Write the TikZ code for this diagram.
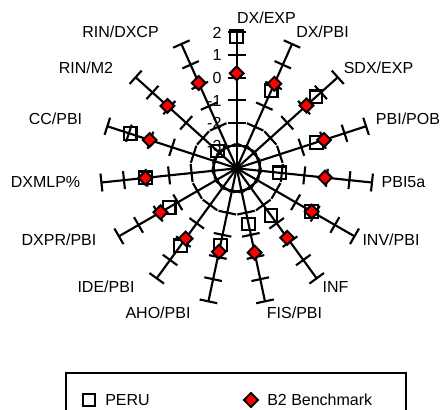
\documentclass[tikz,border=0pt]{standalone}
\usepackage{fontspec}
\setmainfont{Liberation Sans}
\usetikzlibrary{shapes.geometric}
\tikzset{
  spoke/.style   = {line width=1.6pt},
  peru/.style    = {draw, rectangle, line width=1.6pt, minimum size=9.5pt, inner sep=0pt},
  bench/.style   = {draw, diamond, fill=red, line width=1.5pt, minimum size=11pt, inner sep=0pt},
  axlabel/.style = {font=\fontsize{12}{14}\selectfont, inner sep=0pt, anchor=base, yshift=-4.3pt}
}
\begin{document}
\begin{tikzpicture}[x=0.75pt,y=0.75pt]
  \useasboundingbox (-236.7,-241.7) rectangle (203.3,168.3);
  \clip (-236.7,-241.7) rectangle (203.3,168.3);
  \coordinate (o) at (0,0);
  % spokes with ticks from -3 to 2 (centre is -4)
  \foreach \k in {0,...,14}{
    \pgfmathsetmacro\a{90-24*\k}
    \coordinate (end\k) at (\a:136);
    \draw[spoke] (o) -- (end\k);
    \foreach \t in {-3,...,2}
      \draw[spoke,rotate=\a] ({(\t+4)*22.67},-9) -- ({(\t+4)*22.67},9);
  }
  % scale on the vertical spoke
  \foreach \t in {-3,...,2}
    \node[axlabel,anchor=base east] (v\t) at (-15,{(\t+4)*22.67}) {\t};
  % PERU (no value on RIN/DXCP)
  \foreach \k/\v in {0/1.81,1/-0.26,2/0.71,3/-0.3,4/-2.1,5/-0.18,6/-1.43,7/-1.49,
                     8/-0.54,9/0.23,10/-0.56,11/0.05,12/0.94,13/-2.86}
    \node[peru] (p\k) at ({90-24*\k}:{(\v+4)*22.67}) {};
  % B2 Benchmark
  \foreach \k/\v in {0/0.19,1/0.08,2/0.14,3/0.05,4/-0.08,5/-0.18,6/-0.21,7/-0.2,
                     8/-0.24,9/-0.17,10/-0.12,11/0.05,12/0.04,13/0.11,14/0.12}
    \node[bench] (b\k) at ({90-24*\k}:{(\v+4)*22.67}) {};
  % spoke names
  \node[axlabel] (dxexp)   at (29.8,150.3)   {DX/EXP};
  \node[axlabel] (dxpbi)   at (85.8,136.3)   {DX/PBI};
  \node[axlabel] (sdxexp)  at (141.8,100.3)  {SDX/EXP};
  \node[axlabel] (pbipob)  at (171.3,49.3)   {PBI/POB};
  \node[axlabel] (pbifive) at (166.8,-13.7)  {PBI5a};
  \node[axlabel] (invpbi)  at (154.3,-71.7)  {INV/PBI};
  \node[axlabel] (inf)     at (98.8,-118.7)  {INF};
  \node[axlabel] (fispbi)  at (57.8,-144.7)  {FIS/PBI};
  \node[axlabel] (ahopbi)  at (-78.7,-144.7) {AHO/PBI};
  \node[axlabel] (idepbi)  at (-130.7,-118.7) {IDE/PBI};
  \node[axlabel] (dxprpbi) at (-177.7,-71.7) {DXPR/PBI};
  \node[axlabel] (dxmlp)   at (-191.2,-13.7) {DXMLP\%};
  \node[axlabel] (ccpbi)   at (-181.2,49.3)  {CC/PBI};
  \node[axlabel] (rinmtwo) at (-150.7,100.3) {RIN/M2};
  \node[axlabel] (rindxcp) at (-116.2,136.3) {RIN/DXCP};
  % legend
  \draw[line width=1.6pt] (-170.7,-204.4) rectangle (169.3,-260);
  \node[peru]  (lp) at (-147.7,-231.7) {};
  \node[axlabel,anchor=base west] (lpt) at (-131.7,-231.7) {PERU};
  \node[bench] (lb) at (14.3,-231.7) {};
  \node[axlabel,anchor=base west] (lbt) at (30.3,-231.7) {B2 Benchmark};
\end{tikzpicture}
\end{document}
